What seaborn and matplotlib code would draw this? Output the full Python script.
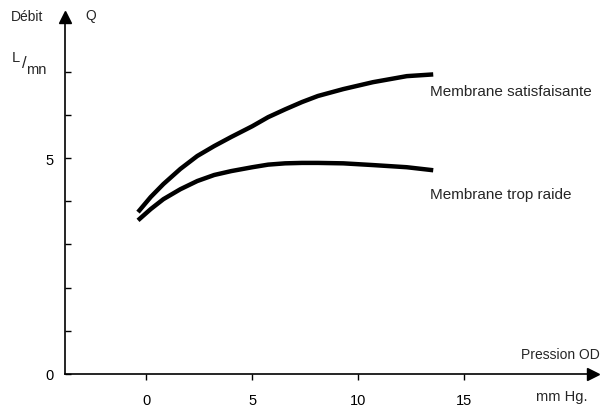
import matplotlib
matplotlib.use("Agg")
import matplotlib.pyplot as plt
import seaborn as sns
import pandas as pd

# Data
pression = [-0.4, 0.2, 0.8, 1.6, 2.4, 3.2, 4.0, 5.0, 5.75, 6.55, 7.35, 8.1, 9.3, 10.7, 12.3, 13.55]
debit_satisfaisante = [3.75, 4.10, 4.40, 4.75, 5.05, 5.28, 5.49, 5.74, 5.95, 6.13, 6.30, 6.44, 6.60, 6.76, 6.90, 6.94]
debit_trop_raide = [3.56, 3.82, 4.05, 4.28, 4.47, 4.61, 4.70, 4.79, 4.85, 4.88, 4.89, 4.89, 4.88, 4.84, 4.79, 4.72]
series_names = ["Membrane satisfaisante", "Membrane trop raide"]
x_ticks = [0, 5, 10, 15]
y_ticks = [0, 1, 2, 3, 4, 5, 6, 7]
y_tick_labels = ["0", "", "", "", "", "5", "", ""]

df = pd.DataFrame({
    "Pression": pression * 2,
    "Debit": debit_satisfaisante + debit_trop_raide,
    "Serie": [series_names[0]] * len(pression) + [series_names[1]] * len(pression),
})

sns.set_style("white")
plt.rcParams["font.family"] = ["Liberation Sans", "DejaVu Sans"]

W, H = 606, 410
fig = plt.figure(figsize=(W / 100, H / 100), dpi=100)
left, right, top, bottom = 65, 593, 18, 375
ax = fig.add_axes([left / W, (H - bottom) / H, (right - left) / W, (bottom - top) / H])

sns.lineplot(data=df, x="Pression", y="Debit", hue="Serie",
             palette=["black", "black"], linewidth=3.2, legend=False, ax=ax,
             sort=False)
for l in ax.lines:
    l.set_solid_capstyle("butt")
    l.set_solid_joinstyle("round")

ax.set_xlim(-3.85, 21.1)
ax.set_ylim(0, 8.27)

for s in ["top", "right"]:
    ax.spines[s].set_visible(False)
for s in ["left", "bottom"]:
    ax.spines[s].set_color("black")
    ax.spines[s].set_linewidth(1.2)

ax.set_xticks(x_ticks)
ax.set_xticklabels([str(t) for t in x_ticks], fontsize=10.5)
ax.set_yticks(y_ticks)
ax.set_yticklabels(y_tick_labels, fontsize=10.5)
ax.tick_params(axis="x", direction="out", length=4, width=1, pad=10, colors="black")
ax.tick_params(axis="y", direction="in", length=4, width=1, pad=8, colors="black")
ax.tick_params(axis="y", which="major", left=True)
ax.tick_params(axis="x", which="major", bottom=True)
ax.set_xlabel("")
ax.set_ylabel("")

# Arrowheads
ax.plot([0], [1.0], marker="^", markersize=9, color="black", transform=ax.transAxes,
        clip_on=False)
ax.plot([1.0], [0], marker=">", markersize=9, color="black", transform=ax.transAxes,
        clip_on=False)

def ftext(x, y, s, **kw):
    fig.text(x / W, 1 - y / H, s, **kw)

ftext(27, 17, "Débit", fontsize=10, ha="center", va="center")
ftext(91, 16, "Q", fontsize=10, ha="center", va="center")
ftext(16, 58, "L", fontsize=10.5, ha="center", va="center")
ftext(24, 64, "/", fontsize=12, ha="center", va="center")
ftext(36, 70, "mn", fontsize=10.5, ha="center", va="center")
ftext(600, 355, "Pression OD", fontsize=10, ha="right", va="center")
ftext(562, 397, "mm Hg.", fontsize=10.5, ha="center", va="center")
ftext(430, 92, series_names[0], fontsize=11, ha="left", va="center")
ftext(430, 195, series_names[1], fontsize=11, ha="left", va="center")

fig.savefig("out.png", dpi=100)
